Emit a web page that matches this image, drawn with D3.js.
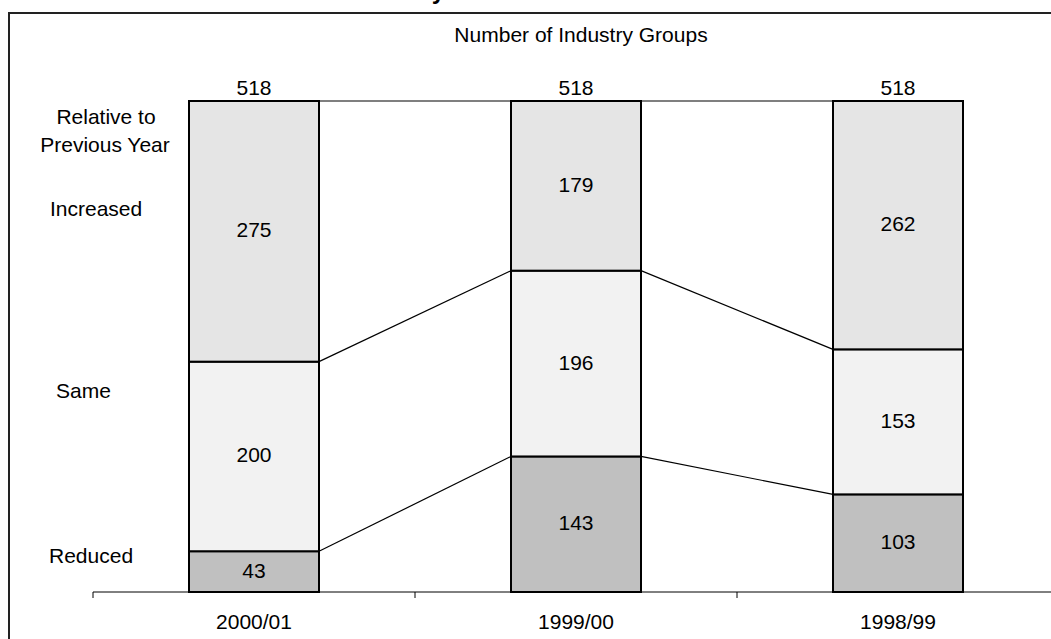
<html>
<head>
    <script src="https://d3js.org/d3.v7.min.js"></script>
    <style>
        body { margin: 0; background: #fff; }
        text { font-family: Arial, "Liberation Sans", sans-serif; fill: #000; }
    </style>
</head>
<body>
    <svg id="chart" width="1051" height="639"></svg>
    <script>
    // data
    const years = ["2000/01", "1999/00", "1998/99"];
    const reduced = [43, 143, 103];
    const same = [200, 196, 153];
    const increased = [275, 179, 262];
    const totals = [518, 518, 518];
    const groups = ["reduced", "same", "increased"];
    const groupLabels = ["Reduced", "Same", "Increased"];

    const svg = d3.select("svg#chart");
    const fontSize = 21;

    // frame (right and bottom edges run off the picture)
    svg.append("rect")
        .attr("x", 9).attr("y", 13)
        .attr("width", 1200).attr("height", 800)
        .attr("fill", "none").attr("stroke", "#222").attr("stroke-width", 2);

    // title, mostly cut off above the picture (as in the original)
    svg.append("text")
        .attr("x", 445).attr("y", -1)
        .attr("text-anchor", "end")
        .style("font-weight", "bold").style("font-size", "24px")
        .text("Industry");

    const rows = years.map((y, i) => ({ year: y, reduced: reduced[i], same: same[i], increased: increased[i], total: totals[i] }));

    const xScale = d3.scaleBand().domain(years).range([93, 1059]);
    const barWidth = 130;
    const yScale = d3.scaleLinear().domain([0, 518]).range([592, 101]);
    const colorScale = d3.scaleOrdinal().domain(groups).range(["#c0c0c0", "#f2f2f2", "#e5e5e5"]);

    const stacked = d3.stack().keys(groups)(rows);

    // connector lines between neighbouring bars
    const levels = stacked.map(s => s.map(d => d[1]));
    let connectors = svg.append("g").attr("id", "connectors");
    levels.forEach(lv => {
        for (let i = 0; i < years.length - 1; i++) {
            connectors.append("line")
                .attr("x1", xScale(years[i]) + xScale.bandwidth() / 2 + barWidth / 2)
                .attr("y1", yScale(lv[i]))
                .attr("x2", xScale(years[i + 1]) + xScale.bandwidth() / 2 - barWidth / 2)
                .attr("y2", yScale(lv[i + 1]))
                .attr("stroke", "#000").attr("stroke-width", 1.2);
        }
    });

    // stacked bars
    let bars = svg.append("g").attr("id", "bars");
    stacked.forEach(s => {
        bars.selectAll(null)
            .data(s)
            .join("rect")
            .attr("x", d => xScale(d.data.year) + xScale.bandwidth() / 2 - barWidth / 2)
            .attr("y", d => yScale(d[1]))
            .attr("width", barWidth)
            .attr("height", d => yScale(d[0]) - yScale(d[1]))
            .attr("fill", colorScale(s.key))
            .attr("stroke", "#000").attr("stroke-width", 2);

        bars.selectAll(null)
            .data(s)
            .join("text")
            .attr("x", d => xScale(d.data.year) + xScale.bandwidth() / 2)
            .attr("y", d => (yScale(d[0]) + yScale(d[1])) / 2 + 6)
            .attr("text-anchor", "middle")
            .style("font-size", fontSize + "px")
            .text(d => d[1] - d[0]);
    });

    // totals above bars
    svg.append("g").selectAll("text")
        .data(rows)
        .join("text")
        .attr("x", d => xScale(d.year) + xScale.bandwidth() / 2)
        .attr("y", d => yScale(d.total) - 6)
        .attr("text-anchor", "middle")
        .style("font-size", fontSize + "px")
        .text(d => d.total);

    // category axis, ticks between categories
    let axis = svg.append("g").attr("id", "axis");
    axis.append("line")
        .attr("x1", 93).attr("x2", 1059)
        .attr("y1", 592).attr("y2", 592)
        .attr("stroke", "#000").attr("stroke-width", 1);
    axis.selectAll("line.tick")
        .data(years)
        .join("line")
        .attr("class", "tick")
        .attr("x1", d => xScale(d)).attr("x2", d => xScale(d))
        .attr("y1", 592).attr("y2", 598)
        .attr("stroke", "#000").attr("stroke-width", 1);
    axis.selectAll("text")
        .data(years)
        .join("text")
        .attr("x", d => xScale(d) + xScale.bandwidth() / 2)
        .attr("y", 629)
        .attr("text-anchor", "middle")
        .style("font-size", fontSize + "px")
        .text(d => d);

    // annotations
    let annotations = svg.append("g").attr("id", "annotations");
    annotations.append("text")
        .attr("x", 581).attr("y", 42)
        .attr("text-anchor", "middle")
        .style("font-size", fontSize + "px")
        .text("Number of Industry Groups");
    annotations.append("text")
        .attr("x", 106).attr("y", 124)
        .attr("text-anchor", "middle")
        .style("font-size", fontSize + "px")
        .text("Relative to");
    annotations.append("text")
        .attr("x", 105).attr("y", 152)
        .attr("text-anchor", "middle")
        .style("font-size", fontSize + "px")
        .text("Previous Year");

    const groupLabelPos = { Reduced: [49, 563], Same: [56, 398], Increased: [50, 216] };
    groupLabels.forEach(g => {
        annotations.append("text")
            .attr("x", groupLabelPos[g][0]).attr("y", groupLabelPos[g][1])
            .style("font-size", fontSize + "px")
            .text(g);
    });
    </script>
</body>
</html>
